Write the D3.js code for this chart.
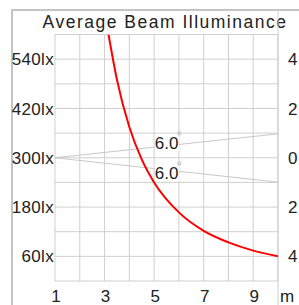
<!DOCTYPE html>
<html>
<head>
<meta charset="utf-8">
<script src="https://cdn.jsdelivr.net/npm/d3@7"></script>
<style>
  body { margin: 0; background: #fff; }
  svg { display: block; font-family: "Liberation Sans", Arial, sans-serif; }
</style>
</head>
<body>
<script>
// distance (m) vs average illuminance (lx)
const distances = [3.16, 3.5, 4, 4.5, 5, 6, 7, 8, 9, 10];
const lux = [600, 490, 375, 296, 240, 167, 122, 94, 74, 60];

// beam edges: distance -> half width (right axis)
const beamDist = [1, 10];
const beamUpper = [0, 0.97];
const beamLower = [0, -0.99];
const beamLabels = ["6.0", "6.0"];
const beamLabelY = [0.34, -0.88];

const xTicks = [1, 3, 5, 7, 9];
const yTicks = [60, 180, 300, 420, 540];
const rTicks = [4, 2, 0, -2, -4];

const W = 299, H = 305;
const svg = d3.select("body").append("svg").attr("width", W).attr("height", H);

const x = d3.scaleLinear().domain([1, 10]).range([55, 278]);
const y = d3.scaleLinear().domain([0, 600]).range([281, 34.5]);
const yr = d3.scaleLinear().domain([-5, 5]).range([281, 34.5]);

// outer frame
svg.append("path")
    .attr("d", `M12,${H} L12,10 L${W},10`)
    .attr("fill", "none")
    .attr("stroke", "#c4c4c4")
    .attr("stroke-width", 2);

svg.append("text")
    .attr("x", 165).attr("y", 27.5)
    .attr("text-anchor", "middle")
    .attr("font-size", 17.5)
    .attr("letter-spacing", 1.5)
    .attr("fill", "#222")
    .text("Average Beam Illuminance");

// grid
const grid = svg.append("g").attr("stroke", "#cfcfcf").attr("stroke-width", 1);
grid.selectAll(".gx").data(d3.range(1, 11)).enter().append("line")
    .attr("x1", d => x(d)).attr("x2", d => x(d))
    .attr("y1", y(600)).attr("y2", y(0));
grid.selectAll(".gy").data(d3.range(0, 601, 60)).enter().append("line")
    .attr("x1", x(1)).attr("x2", x(10))
    .attr("y1", d => y(d)).attr("y2", d => y(d));
// right edge runs full height
grid.append("line")
    .attr("x1", x(10)).attr("x2", x(10))
    .attr("y1", 10).attr("y2", H);

// beam lines
const beam = d3.line().x((d, i) => x(beamDist[i])).y(d => yr(d));
[beamUpper, beamLower].forEach(s => {
    svg.append("path").attr("d", beam(s))
        .attr("fill", "none").attr("stroke", "#c8c8c8").attr("stroke-width", 1);
});

const lbl = svg.append("g");
beamLabels.forEach((t, i) => {
    lbl.append("rect")
        .attr("x", x(5.03)).attr("y", yr(beamLabelY[i]) - 13)
        .attr("width", 24).attr("height", 15)
        .attr("fill", "#fff");
    lbl.append("text")
        .attr("x", x(5.03)).attr("y", yr(beamLabelY[i]))
        .attr("font-size", 17).attr("fill", "#222")
        .text(t);
    lbl.append("circle")
        .attr("cx", x(6.02)).attr("cy", yr(beamLabelY[i]) - 16)
        .attr("r", 1.5).attr("fill", "none")
        .attr("stroke", "#aaa").attr("stroke-width", 0.8);
});

// illuminance curve
svg.append("clipPath").attr("id", "plot").append("rect")
    .attr("x", x(1)).attr("y", y(600)).attr("width", x(10) - x(1)).attr("height", y(0) - y(600));
const curve = d3.line()
    .x((d, i) => x(distances[i]))
    .y(d => y(d))
    .curve(d3.curveMonotoneX);
svg.append("path").attr("d", curve(lux))
    .attr("clip-path", "url(#plot)")
    .attr("fill", "none").attr("stroke", "#ff0000").attr("stroke-width", 2);

// axes labels
const ax = svg.append("g").attr("font-size", 17).attr("fill", "#222");
ax.selectAll(".yl").data(yTicks).enter().append("text")
    .attr("x", 54).attr("y", d => y(d)).attr("dy", "0.36em")
    .attr("text-anchor", "end").attr("letter-spacing", 0.3)
    .text(d => d + "lx");
ax.selectAll(".rl").data(rTicks).enter().append("text")
    .attr("x", 288).attr("y", d => yr(d)).attr("dy", "0.36em")
    .text(d => Math.abs(d));
ax.selectAll(".xl").data(xTicks).enter().append("text")
    .attr("x", d => x(d) + 1).attr("y", 301.5)
    .attr("text-anchor", "middle")
    .text(d => d);
ax.append("text").attr("x", 287).attr("y", 301.5)
    .attr("text-anchor", "middle").text("m");
</script>
</body>
</html>
